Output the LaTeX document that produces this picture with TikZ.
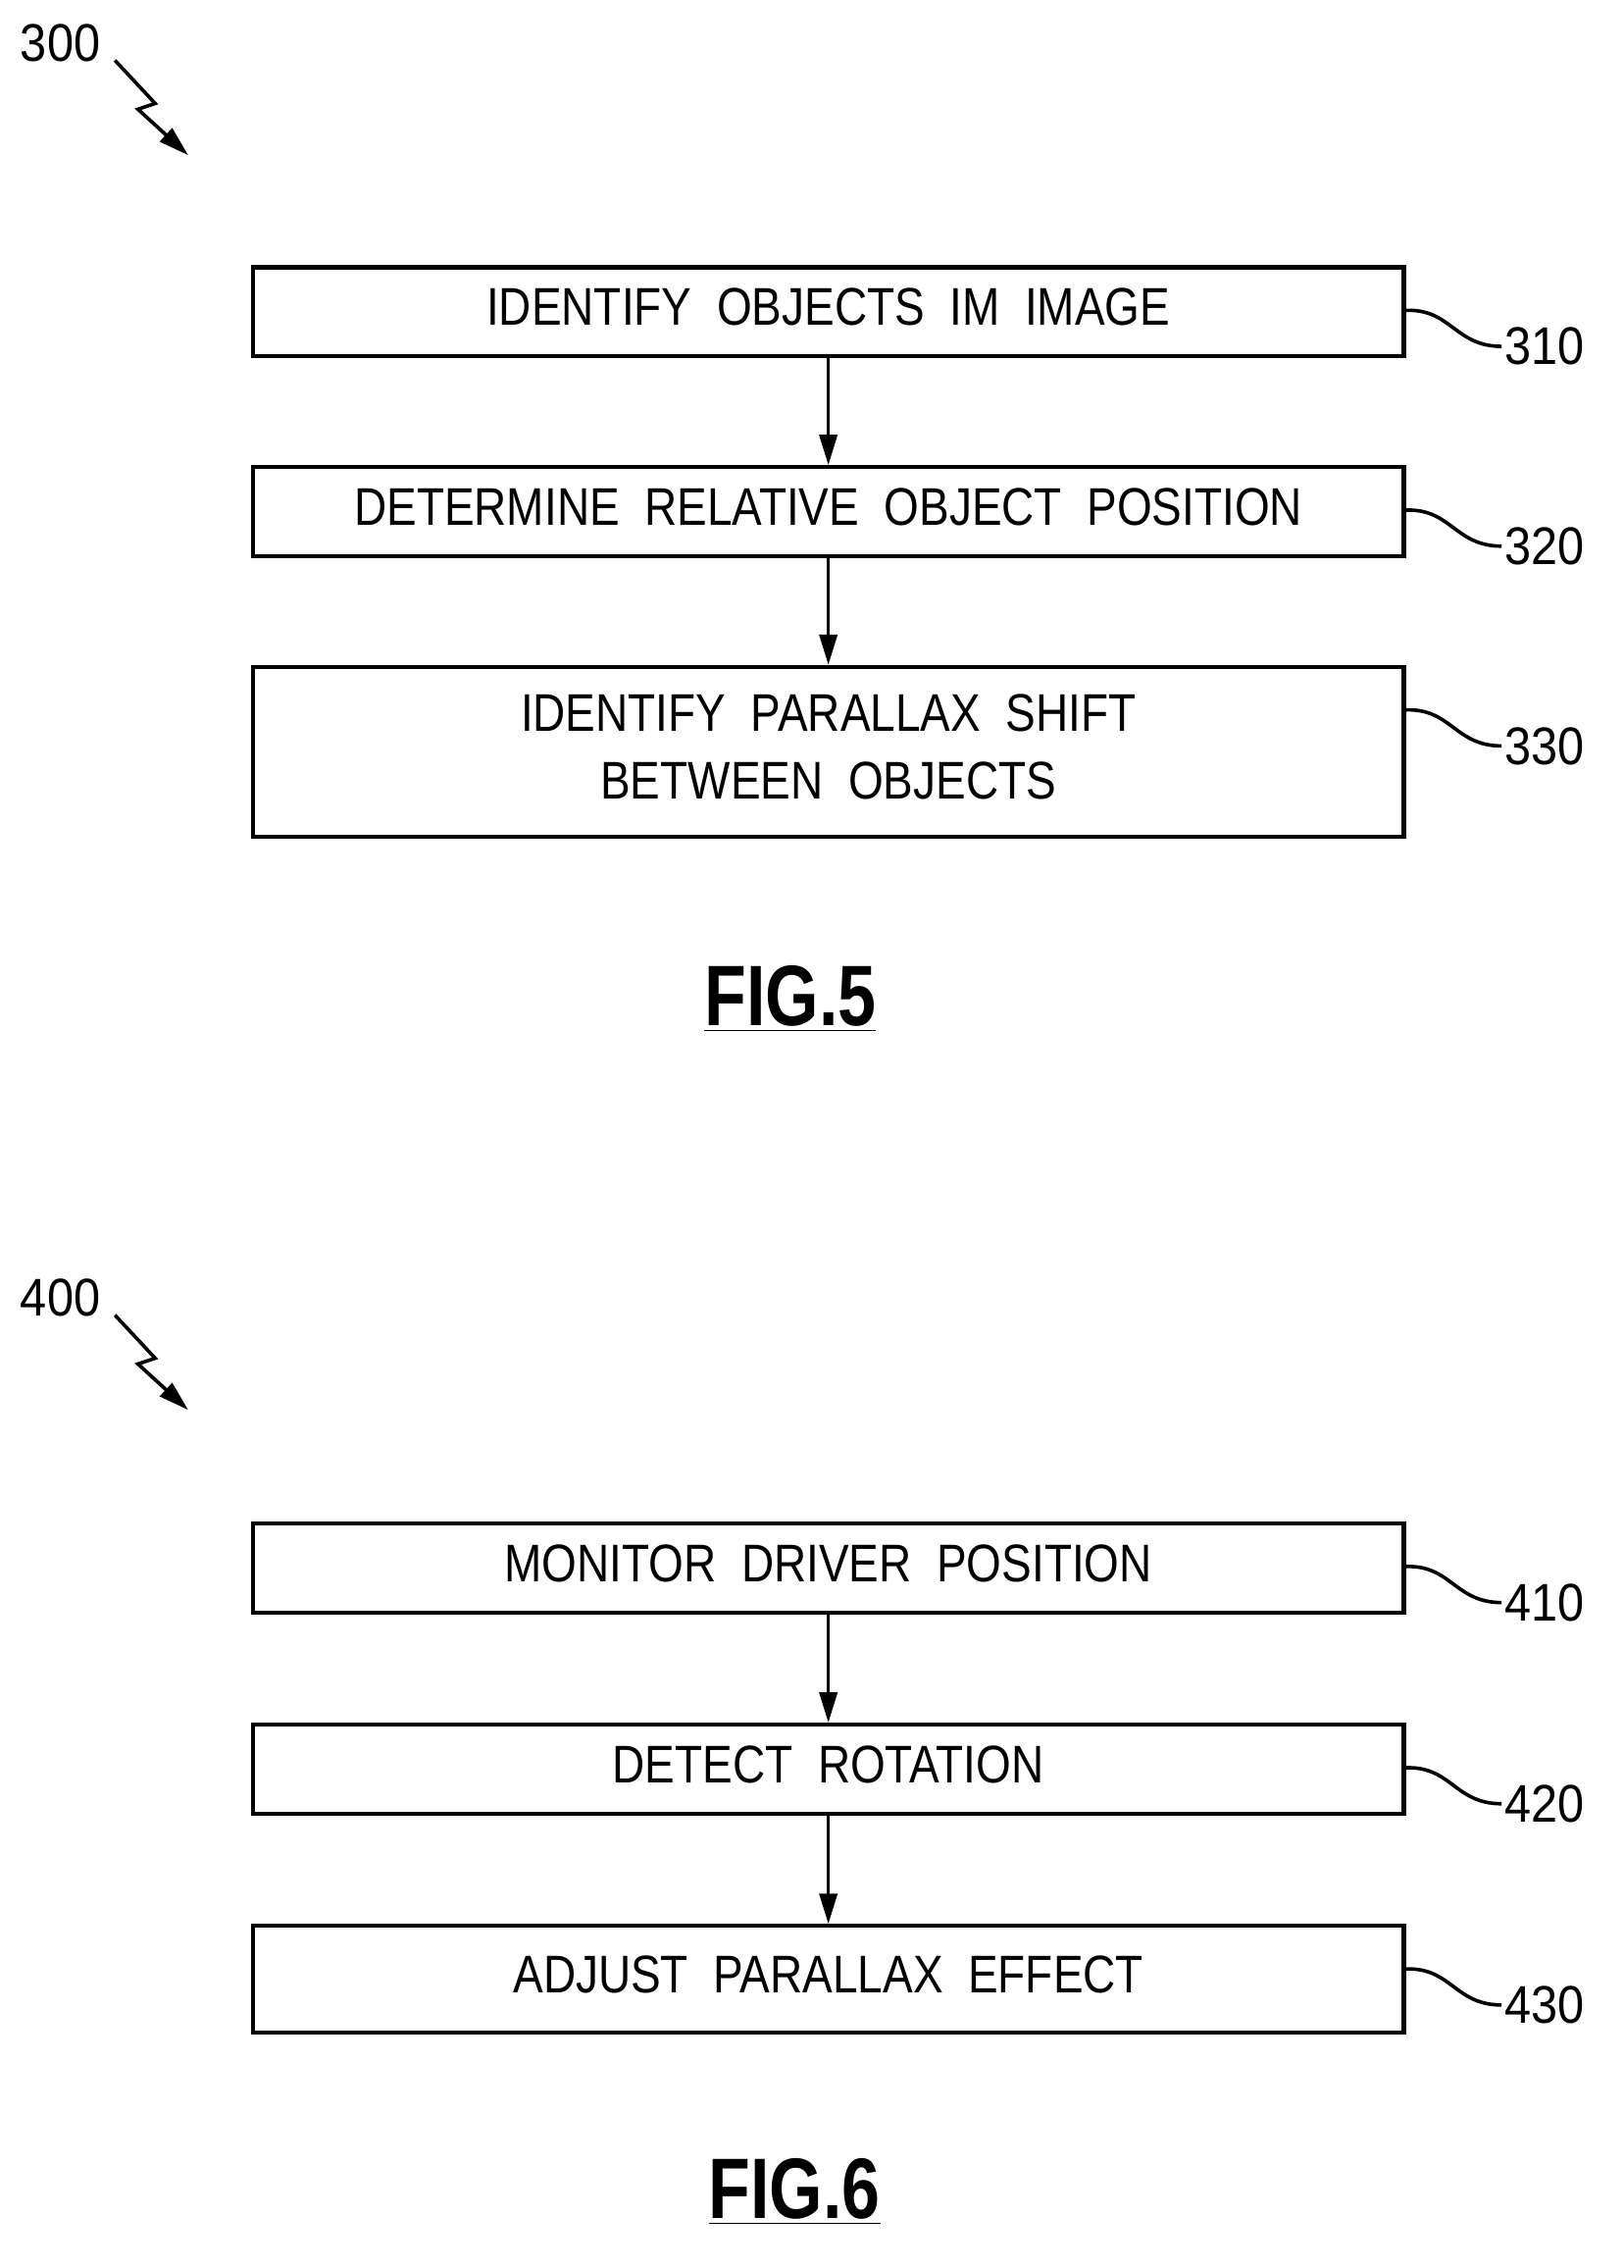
\documentclass[tikz,border=0pt]{standalone}
\usepackage{fontspec}
\setmainfont{Liberation Sans}
\usetikzlibrary{arrows.meta}
\begin{document}
\begin{tikzpicture}[x=0.02cm,y=-0.02cm,
 box/.style={draw,line width=1.6pt,inner sep=0pt,align=center,font=\fontsize{21}{27}\selectfont},
 arr/.style={line width=1.4pt,-{Triangle[length=12pt,width=7pt]}},
 lead/.style={line width=1.4pt},
 lbl/.style={font=\fontsize{21}{25}\selectfont,anchor=west,inner sep=1pt},
 fig/.style={font=\bfseries\fontsize{34}{40}\selectfont}]
\useasboundingbox (0,0) rectangle (1130,1578);
\newcommand{\bx}[5]{\node[box,minimum width=801*0.02cm,minimum height=#3*0.02cm] (#1) at (576.5,#2) {\scalebox{0.85}[1]{\begin{tabular}{@{}c@{}}#4\end{tabular}}};
 \coordinate (#1e) at (977,#2-#3/2+30);
 \node[lbl] (#1l) at (1045,#2-#3/2+55) {\scalebox{0.9}[1]{#5}};
 \draw[lead] (#1e) .. controls (1010,#2-#3/2+28) and (1012,#2-#3/2+55) .. (#1l.west);}
\bx{b310}{217}{62}{IDENTIFY\ \ OBJECTS\ \ IM\ \ IMAGE}{310}
\bx{b320}{356}{62}{DETERMINE\ \ RELATIVE\ \ OBJECT\ \ POSITION}{320}
\bx{b330}{523}{118}{IDENTIFY\ \ PARALLAX\ \ SHIFT\\BETWEEN\ \ OBJECTS}{330}
\bx{b410}{1091}{62}{MONITOR\ \ DRIVER\ \ POSITION}{410}
\bx{b420}{1231}{62}{DETECT\ \ ROTATION}{420}
\bx{b430}{1377}{74}{ADJUST\ \ PARALLAX\ \ EFFECT}{430}
\draw[arr] (b310) -- (b320);
\draw[arr] (b320) -- (b330);
\draw[arr] (b410) -- (b420);
\draw[arr] (b420) -- (b430);
\node[fig] (f5) at (550,695) {\scalebox{0.8}[1]{\underline{FIG.5}}};
\node[fig] (f6) at (553,1525) {\scalebox{0.8}[1]{\underline{FIG.6}}};
\node[font=\fontsize{21}{25}\selectfont] (n300) at (42,30) {\scalebox{0.9}[1]{300}};
\node[font=\fontsize{21}{25}\selectfont] (n400) at (42,903) {\scalebox{0.9}[1]{400}};
\coordinate (z3) at (80,42);
\draw[arr] (z3) -- (108,72) -- (96,76) -- (131,108);
\coordinate (z4) at (80,915);
\draw[arr] (z4) -- (108,945) -- (96,949) -- (131,981);
\end{tikzpicture}
\end{document}
